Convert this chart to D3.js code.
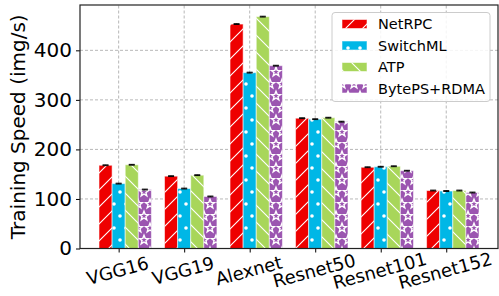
<!DOCTYPE html>
<html>
<head>
<meta charset="utf-8">
<script src="https://cdn.jsdelivr.net/npm/d3@7"></script>
<style>
  body { margin: 0; background: #fff; }
  svg { display: block; font-family: "DejaVu Sans", sans-serif; }
</style>
</head>
<body>
<div id="chart"></div>
<script>
// data
const models = ["VGG16", "VGG19", "Alexnet", "Resnet50", "Resnet101", "Resnet152"];
const seriesNames = ["NetRPC", "SwitchML", "ATP", "BytePS+RDMA"];
const netrpc = [168, 146, 453, 263, 164, 117];
const switchml = [131, 121, 355, 261, 165, 116];
const atp = [169, 148, 468, 264, 166, 117];
const byteps = [119, 105, 369, 256, 157, 113];
const errs = [0.8, 0.8, 0.8, 0.8, 0.8, 0.8];
const yTicks = [0, 100, 200, 300, 400];

const colors = ["#ee0000", "#00b7e6", "#a8d65a", "#9b55b0"];
const hatches = ["ne", "dots", "nw", "stars"];
const series = [netrpc, switchml, atp, byteps];

const W = 499, H = 296;
const margin = { top: 5, right: 1, bottom: 47.5, left: 80 };

const svg = d3.select("#chart").append("svg")
    .attr("width", W)
    .attr("height", H);

// Hatch patterns (white, like matplotlib hatch)
const defs = svg.append("defs");
const s = 17;
const ne = defs.append("pattern").attr("id", "ne")
    .attr("patternUnits", "userSpaceOnUse").attr("width", s).attr("height", s);
ne.append("path")
    .attr("d", `M0,${s} L${s},0 M${-s / 4},${s / 4} L${s / 4},${-s / 4} M${3 * s / 4},${5 * s / 4} L${5 * s / 4},${3 * s / 4}`)
    .attr("stroke", "#fff").attr("stroke-width", 1.1);
const nw = defs.append("pattern").attr("id", "nw")
    .attr("patternUnits", "userSpaceOnUse").attr("width", s).attr("height", s);
nw.append("path")
    .attr("d", `M0,0 L${s},${s} M${-s / 4},${3 * s / 4} L${s / 4},${5 * s / 4} M${3 * s / 4},${-s / 4} L${5 * s / 4},${s / 4}`)
    .attr("stroke", "#fff").attr("stroke-width", 1.1);

const g2 = 12;
const dots = defs.append("pattern").attr("id", "dots")
    .attr("patternUnits", "userSpaceOnUse").attr("width", g2).attr("height", 2 * g2);
[[0, 0], [g2, 0], [0, 2 * g2], [g2, 2 * g2], [g2 / 2, g2]].forEach(p => {
    dots.append("circle").attr("cx", p[0]).attr("cy", p[1]).attr("r", 1.8).attr("fill", "#fff");
});

const starPath = (cx, cy, R) => {
    const r = R * 0.42;
    const pts = d3.range(10).map(k => {
        const a = -Math.PI / 2 + k * Math.PI / 5;
        const rr = k % 2 === 0 ? R : r;
        return [cx + rr * Math.cos(a), cy + rr * Math.sin(a)];
    });
    return "M" + pts.map(p => p.join(",")).join("L") + "Z";
};
const stars = defs.append("pattern").attr("id", "stars")
    .attr("patternUnits", "userSpaceOnUse").attr("width", g2).attr("height", 2 * g2);
[[0, 0], [g2, 0], [0, 2 * g2], [g2, 2 * g2], [g2 / 2, g2]].forEach(p => {
    stars.append("path").attr("d", starPath(p[0], p[1], 4.8))
        .attr("fill", "none").attr("stroke", "#fff").attr("stroke-width", 1.4);
});

// Scales
const x = d3.scaleLinear()
    .domain([-0.59, 5.79])
    .range([margin.left, W - margin.right]);
const y = d3.scaleLinear()
    .domain([0, 491.5])
    .range([H - margin.bottom, margin.top]);
const barW = 0.2;

// Grid
const grid = svg.append("g");
grid.selectAll(".gy").data(yTicks.slice(1)).enter().append("line")
    .attr("x1", x.range()[0]).attr("x2", x.range()[1])
    .attr("y1", d => y(d)).attr("y2", d => y(d))
    .attr("stroke", "#b0b0b0").attr("stroke-width", 0.9).attr("stroke-dasharray", "3,2");
grid.selectAll(".gx").data(models).enter().append("line")
    .attr("x1", (d, i) => x(i)).attr("x2", (d, i) => x(i))
    .attr("y1", y.range()[0]).attr("y2", y.range()[1])
    .attr("stroke", "#b0b0b0").attr("stroke-width", 0.9).attr("stroke-dasharray", "3,2");

// Bars
series.forEach((vals, k) => {
    const g = svg.append("g");
    const bx = i => x(i + (k - 1) * barW - barW / 2);
    const bw = x(barW) - x(0);
    g.selectAll(".f").data(vals).enter().append("rect")
        .attr("x", (d, i) => bx(i)).attr("width", bw)
        .attr("y", d => y(d)).attr("height", d => y(0) - y(d))
        .attr("fill", colors[k]);
    g.selectAll(".h").data(vals).enter().append("rect")
        .attr("x", (d, i) => bx(i)).attr("width", bw)
        .attr("y", d => y(d)).attr("height", d => y(0) - y(d))
        .attr("fill", `url(#${hatches[k]})`)
        .attr("stroke", "#fff").attr("stroke-opacity", 0.55).attr("stroke-width", 1);
    // error bars
    const cx = i => x(i + (k - 1) * barW);
    g.selectAll(".e").data(vals).enter().append("path")
        .attr("d", (d, i) => `M${cx(i)},${y(d - errs[i])}V${y(d + errs[i])}M${cx(i) - 3},${y(d + errs[i])}H${cx(i) + 3}M${cx(i) - 3},${y(d - errs[i])}H${cx(i) + 3}`)
        .attr("stroke", "#000").attr("stroke-width", 1).attr("fill", "none");
});

// Axes
const yAxis = svg.append("g")
    .attr("transform", `translate(${margin.left},0)`)
    .call(d3.axisLeft(y).tickValues(yTicks).tickSize(4).tickPadding(4));
yAxis.select(".domain").remove();
yAxis.selectAll("text").attr("font-size", 20).attr("fill", "#000").attr("font-family", "DejaVu Sans");
yAxis.selectAll("line").attr("stroke", "#000");

const xAxis = svg.append("g")
    .attr("transform", `translate(0,${y(0)})`)
    .call(d3.axisBottom(x).tickValues(d3.range(models.length)).tickSize(4).tickFormat(""));
xAxis.select(".domain").remove();
xAxis.selectAll("line").attr("stroke", "#000");

svg.append("g").selectAll("text").data(models).enter().append("text")
    .attr("transform", (d, i) => `translate(${x(i) - 1},${y(0) + 22}) rotate(-15)`)
    .attr("text-anchor", "middle")
    .attr("dominant-baseline", "central")
    .attr("font-size", 18)
    .attr("fill", "#000")
    .text(d => d);

// Frame
svg.append("rect")
    .attr("x", x.range()[0]).attr("y", y.range()[1])
    .attr("width", x.range()[1] - x.range()[0])
    .attr("height", y.range()[0] - y.range()[1])
    .attr("fill", "none").attr("stroke", "#222").attr("stroke-width", 1.2);

// Y label
svg.append("text")
    .attr("transform", `translate(18,${(y.range()[0] + y.range()[1]) / 2}) rotate(-90)`)
    .attr("text-anchor", "middle")
    .attr("dominant-baseline", "central")
    .attr("font-size", 20)
    .attr("fill", "#000")
    .text("Training Speed (img/s)");

// Legend
const legend = svg.append("g");
legend.append("rect")
    .attr("x", 332).attr("y", 12.5).attr("width", 158).attr("height", 89).attr("rx", 3)
    .attr("fill", "#fff").attr("fill-opacity", 0.85)
    .attr("stroke", "#cccccc").attr("stroke-width", 1);
seriesNames.forEach((name, k) => {
    const cy = 24 + k * 21.5;
    legend.append("rect").attr("x", 342).attr("y", cy - 4.5).attr("width", 25).attr("height", 9)
        .attr("fill", colors[k]);
    legend.append("rect").attr("x", 342).attr("y", cy - 4.5).attr("width", 25).attr("height", 9)
        .attr("fill", `url(#${hatches[k]})`)
        .attr("stroke", "#fff").attr("stroke-opacity", 0.55);
    legend.append("text").attr("x", 378).attr("y", cy)
        .attr("dominant-baseline", "central")
        .attr("font-size", 14.5).attr("fill", "#000")
        .text(name);
});
</script>
</body>
</html>
